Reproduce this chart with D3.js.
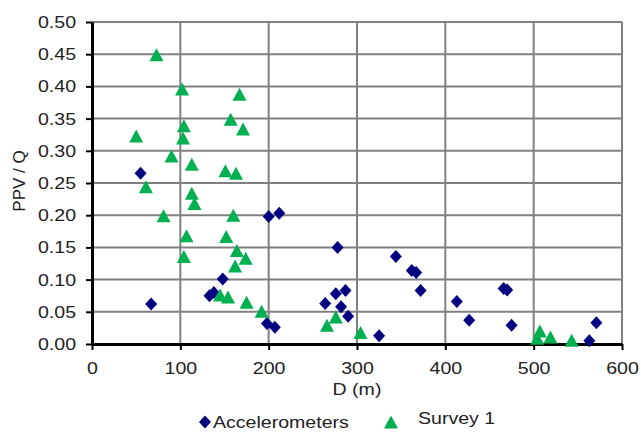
<!DOCTYPE html>
<html>
<head>
<meta charset="utf-8">
<script src="https://cdn.jsdelivr.net/npm/d3@7"></script>
<style>
  body { margin: 0; background: #fff; }
  text { font-family: "Liberation Sans", Arial, sans-serif; fill: #222; }
</style>
</head>
<body>
<div id="chart"></div>
<script>
// data: [D (m), PPV/Q]
var accelerometers = [
  [55, 0.265], [67, 0.062], [133, 0.075], [138, 0.080], [148, 0.101],
  [198, 0.032], [200, 0.198], [207, 0.026], [212, 0.203], [264, 0.063],
  [276, 0.078], [278, 0.150], [282, 0.058], [287, 0.083], [290, 0.043],
  [325, 0.013], [344, 0.136], [362, 0.114], [367, 0.111], [372, 0.083],
  [413, 0.066], [427, 0.037], [466, 0.086], [470, 0.084], [475, 0.029],
  [563, 0.005], [571, 0.033]
];
var survey1 = [
  [50, 0.323], [61, 0.244], [73, 0.449], [81, 0.199], [90, 0.292],
  [102, 0.396], [104, 0.339], [103, 0.320], [104, 0.136], [107, 0.168],
  [113, 0.279], [113, 0.234], [116, 0.218], [145, 0.076], [154, 0.073],
  [151, 0.269], [152, 0.167], [157, 0.349], [160, 0.200], [163, 0.265],
  [164, 0.145], [162, 0.121], [167, 0.388], [171, 0.334], [174, 0.133],
  [175, 0.065], [192, 0.051], [266, 0.029], [276, 0.042], [304, 0.018],
  [504, 0.009], [507, 0.020], [519, 0.011], [543, 0.006]
];
var xTicks = [0, 100, 200, 300, 400, 500, 600];
var yTicks = [0, 0.05, 0.10, 0.15, 0.20, 0.25, 0.30, 0.35, 0.40, 0.45, 0.50];

var W = 641, H = 432;
var plotL = 92, plotR = 622, plotT = 22, plotB = 344;
var stretch = 1.15;

var svg = d3.select("#chart").append("svg")
    .attr("width", W).attr("height", H);

var x = d3.scaleLinear().domain([0, 600]).range([plotL, plotR]);
var y = d3.scaleLinear().domain([0, 0.5]).range([plotB, plotT]);

// grid
svg.append("g").selectAll("line").data(yTicks.slice(1)).enter().append("line")
    .attr("x1", plotL).attr("x2", plotR)
    .attr("y1", function(d){ return y(d); }).attr("y2", function(d){ return y(d); })
    .attr("stroke", "#808080").attr("stroke-width", 2);
svg.append("g").selectAll("line").data(xTicks.slice(1)).enter().append("line")
    .attr("y1", plotT).attr("y2", plotB)
    .attr("x1", function(d){ return x(d); }).attr("x2", function(d){ return x(d); })
    .attr("stroke", "#808080").attr("stroke-width", 2);

// axes
var yAxis = d3.axisLeft(y).tickValues(yTicks).tickFormat(d3.format(".2f"))
    .tickSize(6).tickPadding(10).tickSizeOuter(0);
var xAxis = d3.axisBottom(x).tickValues(xTicks).tickFormat(d3.format("d"))
    .tickSize(6).tickPadding(12).tickSizeOuter(0);

var gy = svg.append("g").attr("transform", "translate(" + plotL + ",0)").call(yAxis);
var gx = svg.append("g").attr("transform", "translate(0," + plotB + ")").call(xAxis);
[gx, gy].forEach(function(g){
  g.select(".domain").attr("stroke", "#000").attr("stroke-width", 3);
  g.selectAll(".tick line").attr("stroke", "#000").attr("stroke-width", 2);
  g.selectAll(".tick text").attr("font-size", 17).attr("fill", "#222")
    .attr("font-family", "Liberation Sans, Arial, sans-serif");
});

function widen(sel) {
  sel.each(function(){
    var w = this.getComputedTextLength();
    d3.select(this).attr("textLength", w * stretch).attr("lengthAdjust", "spacingAndGlyphs");
  });
}
widen(gx.selectAll(".tick text"));
widen(gy.selectAll(".tick text"));

// marker shapes
function diamond(cx, cy) {
  var a = 6, b = 6.5;
  return "M" + cx + "," + (cy - b) + "L" + (cx + a) + "," + cy + "L" + cx + "," + (cy + b) + "L" + (cx - a) + "," + cy + "Z";
}
function triangle(cx, cy) {
  var a = 7, b = 6.5;
  return "M" + cx + "," + (cy - b) + "L" + (cx + a) + "," + (cy + b) + "L" + (cx - a) + "," + (cy + b) + "Z";
}

svg.append("g").selectAll("path").data(accelerometers).enter().append("path")
    .attr("d", function(d){ return diamond(x(d[0]), y(d[1])); })
    .attr("fill", "#000080");
svg.append("g").selectAll("path").data(survey1).enter().append("path")
    .attr("d", function(d){ return triangle(x(d[0]), y(d[1])); })
    .attr("fill", "#00b050");

// axis titles
widen(svg.append("text").attr("x", (plotL + plotR) / 2).attr("y", 395)
    .attr("text-anchor", "middle").attr("font-size", 17).text("D (m)"));
svg.append("text").attr("transform", "translate(25,181) rotate(-90)")
    .attr("text-anchor", "middle").attr("font-size", 17).text("PPV / Q");

// legend
svg.append("path").attr("d", diamond(205, 422)).attr("fill", "#000080");
widen(svg.append("text").attr("x", 213).attr("y", 428).attr("font-size", 17).text("Accelerometers"));
svg.append("path").attr("d", triangle(391, 422)).attr("fill", "#00b050");
widen(svg.append("text").attr("x", 418).attr("y", 424).attr("font-size", 17).text("Survey 1"));
</script>
</body>
</html>
